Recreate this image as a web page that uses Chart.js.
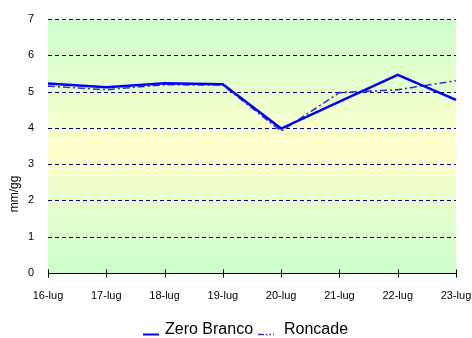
<!DOCTYPE html>
<html>
<head>
<meta charset="utf-8">
<script src="https://cdn.jsdelivr.net/npm/chart.js@4/dist/chart.umd.min.js"></script>
<style>
  html, body { margin: 0; padding: 0; background: #ffffff; }
  #wrap { width: 472px; height: 338px; position: relative; }
</style>
</head>
<body>
<div id="wrap"><canvas id="c" width="472" height="338"></canvas></div>
<script>
// Daily evapotranspiration, mm/gg
const days = ['16-lug', '17-lug', '18-lug', '19-lug', '20-lug', '21-lug', '22-lug', '23-lug'];
const zeroBranco = [5.22, 5.12, 5.23, 5.20, 3.98, 4.72, 5.46, 4.77];
const roncade = [5.15, 5.05, 5.19, 5.18, 3.91, 4.97, 5.05, 5.30];
const yTicks = [0, 1, 2, 3, 4, 5, 6, 7];
const yTitle = 'mm/gg';

const FONT = 'Arial, "Liberation Sans", sans-serif';

// Green-yellow-green gradient and dashed value grid behind the lines
const plotBackground = {
  id: 'plotBackground',
  beforeDatasetsDraw(chart) {
    const { ctx, chartArea: a } = chart;
    const ys = chart.scales.y;
    const g = ctx.createLinearGradient(0, a.top, 0, a.bottom);
    g.addColorStop(0, '#ccffcc');
    g.addColorStop(0.5, '#ffffcc');
    g.addColorStop(1, '#ccffcc');
    ctx.save();
    ctx.fillStyle = g;
    ctx.fillRect(a.left, a.top, a.right - a.left, a.bottom - a.top);

    ctx.strokeStyle = '#000080';
    ctx.lineWidth = 1;
    ctx.setLineDash([4, 3]);
    ctx.beginPath();
    yTicks.forEach(v => {
      if (v === 0) return;
      const y = Math.round(ys.getPixelForValue(v)) + 0.5;
      ctx.moveTo(a.left, y);
      ctx.lineTo(a.right, y);
    });
    ctx.stroke();

    // category axis line with crossing tick marks
    const xs = chart.scales.x;
    ctx.setLineDash([]);
    ctx.strokeStyle = '#000000';
    ctx.beginPath();
    const yb = Math.round(a.bottom) + 0.5;
    ctx.moveTo(a.left, yb);
    ctx.lineTo(a.right, yb);
    xs.ticks.forEach((t, i) => {
      const x = Math.round(xs.getPixelForTick(i)) + 0.5;
      ctx.moveTo(x, yb - 4);
      ctx.lineTo(x, yb + 4);
    });
    ctx.stroke();
    ctx.restore();
  }
};

// Rotated y title and the legend row
const legendSlots = [
  { markX: 143, textX: 165 },
  { markX: 258, textX: 284 }
];
const decorations = {
  id: 'decorations',
  afterDraw(chart) {
    const { ctx } = chart;
    ctx.save();
    ctx.fillStyle = '#000000';
    ctx.font = '12px ' + FONT;
    ctx.translate(15, 194);
    ctx.rotate(-Math.PI / 2);
    ctx.textAlign = 'center';
    ctx.textBaseline = 'middle';
    ctx.fillText(yTitle, 0, 0);
    ctx.restore();

    ctx.save();
    ctx.font = '16px ' + FONT;
    ctx.textBaseline = 'middle';
    ctx.fillStyle = '#000000';
    const ty = 330, ly = 334.5, markW = 16;
    chart.data.datasets.forEach((d, i) => {
      const slot = legendSlots[i];
      ctx.save();
      ctx.strokeStyle = d.borderColor;
      ctx.lineWidth = Math.min(d.borderWidth, 2);
      ctx.setLineDash(d.borderDash ? [6, 2, 1.5, 2, 1.5, 2] : []);
      ctx.beginPath();
      ctx.moveTo(slot.markX, ly);
      ctx.lineTo(slot.markX + markW, ly);
      ctx.stroke();
      ctx.restore();
      ctx.fillText(d.label, slot.textX, ty);
    });
    ctx.restore();
  }
};

new Chart(document.getElementById('c'), {
  type: 'line',
  data: {
    labels: days,
    datasets: [
      {
        label: 'Zero Branco',
        data: zeroBranco,
        borderColor: '#0000ff',
        borderWidth: 2.5,
        pointRadius: 0,
        tension: 0,
        fill: false
      },
      {
        label: 'Roncade',
        data: roncade,
        borderColor: '#3333cc',
        borderWidth: 1.6,
        borderDash: [7, 3, 2, 3],
        pointRadius: 0,
        tension: 0,
        fill: false
      }
    ]
  },
  options: {
    responsive: false,
    animation: false,
    layout: { padding: { left: 0, right: 16, top: 19, bottom: 0 } },
    plugins: {
      legend: { display: false },
      tooltip: { enabled: false },
      title: { display: false }
    },
    scales: {
      x: {
        offset: false,
        grid: { display: false, drawOnChartArea: false },
        border: { display: false },
        ticks: {
          color: '#000000',
          font: { family: FONT, size: 11 },
          maxRotation: 0,
          autoSkip: false,
          padding: 8
        },
        afterFit(scale) {
          scale.height = 65;
          scale.paddingLeft = 0;
          scale.paddingRight = 0;
        }
      },
      y: {
        min: 0,
        max: 7,
        afterBuildTicks(scale) { scale.ticks = yTicks.map(v => ({ value: v })); },
        grid: { display: false },
        border: { display: false },
        ticks: {
          color: '#000000',
          font: { family: FONT, size: 11 },
          padding: 6
        },
        afterFit(scale) { scale.width = 48; }
      }
    }
  },
  plugins: [plotBackground, decorations]
});
</script>
</body>
</html>
